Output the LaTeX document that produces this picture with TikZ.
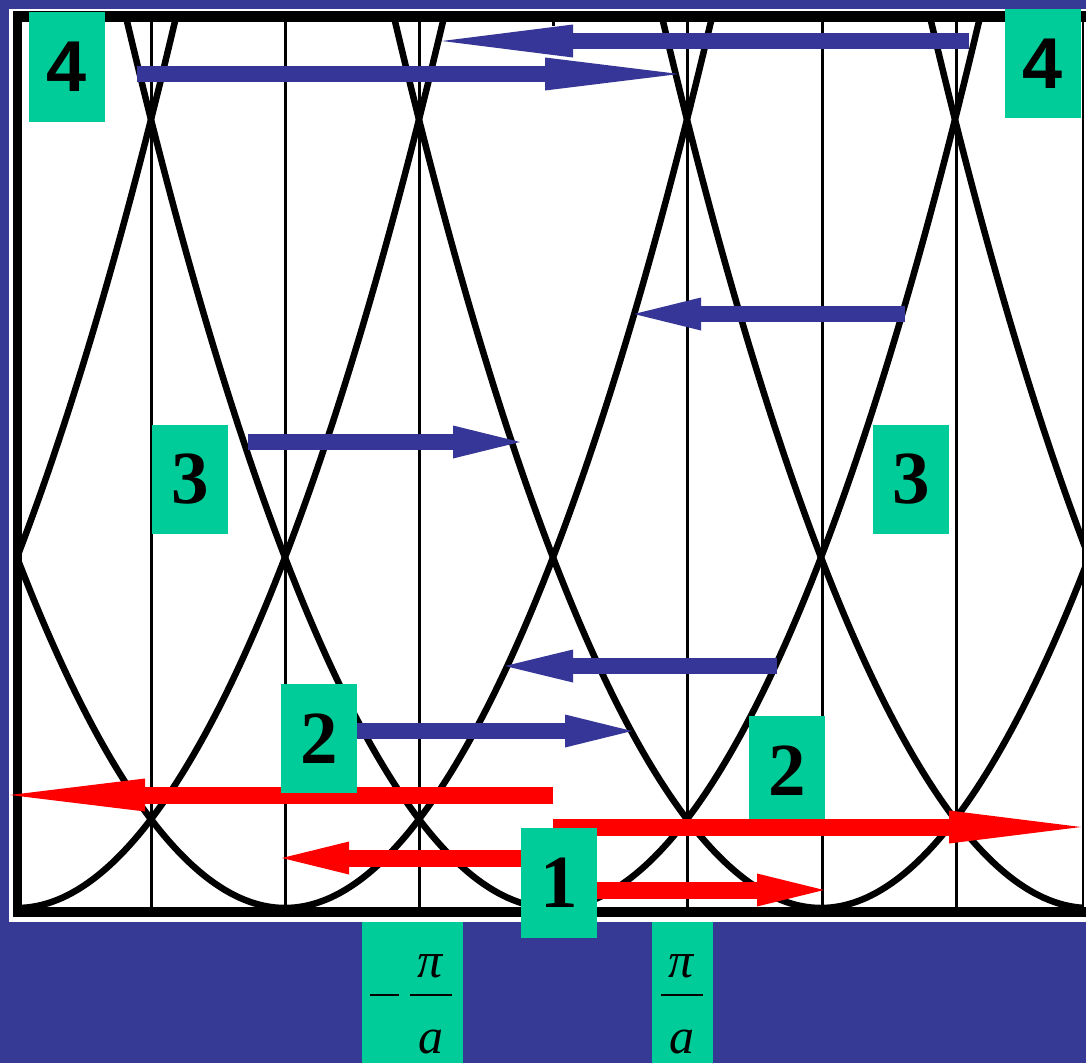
\documentclass[tikz,border=0pt]{standalone}
\usepackage{fontspec}
\setmainfont{Liberation Serif}
\newfontfamily\sansbold{Liberation Sans}
\usetikzlibrary{arrows.meta}
\definecolor{bgblue}{RGB}{54,58,148}
\definecolor{arrblue}{RGB}{54,54,152}
\definecolor{boxgreen}{RGB}{0,204,153}
\definecolor{arrred}{RGB}{255,0,0}
\tikzset{
  bandcurve/.style={line width=6.5, black},
  gridline/.style={line width=3, black},
  barr/.style={arrblue, line width=16.5, -{Triangle[length=#1, width=33pt, line width=0pt]}},
  rarr/.style={arrred, line width=17, -{Triangle[length=#1, width=33pt, line width=0pt]}},
  numbox/.style={fill=boxgreen, inner sep=0, minimum width=76, minimum height=110,
     font=\fontsize{75}{75}\selectfont\bfseries},
  fourbox/.style={numbox, font=\fontsize{72}{72}\selectfont\sansbold\bfseries},
  kbox/.style={fill=boxgreen, inner sep=0, minimum height=141},
  fractext/.style={inner sep=0, font=\fontsize{50}{50}\selectfont\itshape}
}
\begin{document}
\begin{tikzpicture}[x=1pt,y=-1pt]
\useasboundingbox (0,0) rectangle (1086,1063);
\fill[bgblue] (0,0) rectangle (1086,1063);
\fill[white] (9,9) rectangle (1086,922);
% bands
\begin{scope}
\clip (22,22) rectangle (1083,907);
\foreach \xc in {-251,17,285,553,821,1089,1357}{
  \draw[bandcurve] ({\xc-435.5},-19) parabola bend (\xc,908) ({\xc+435.5},-19);
}
\foreach \xv in {151,285,419,687,822,956}{
  \draw[gridline] (\xv,22) -- (\xv,907);
}
\draw[gridline] (553,22) -- (553,26);
\end{scope}
% frame
\draw[line width=11] (13,16.5) -- (1086,16.5);
\draw[line width=9] (17.5,11) -- (17.5,917);
\draw[line width=10] (13,912) -- (1086,912);
\draw[line width=2] (1083,22) -- (1083,907);
% coordinates
\coordinate (b1s) at (137,74);  \coordinate (b1e) at (679,74);
\coordinate (b2s) at (969,41);  \coordinate (b2e) at (442,41);
\coordinate (b3s) at (905,314); \coordinate (b3e) at (634,314);
\coordinate (b4s) at (248,442); \coordinate (b4e) at (520,442);
\coordinate (b5s) at (777,666); \coordinate (b5e) at (505,666);
\coordinate (b6s) at (357,731); \coordinate (b6e) at (632,731);
\coordinate (r1s) at (553,795); \coordinate (r1e) at (10,795);
\coordinate (r2s) at (553,827); \coordinate (r2e) at (1081,827);
\coordinate (r3s) at (521,858); \coordinate (r3e) at (282,858);
\coordinate (r4s) at (597,890); \coordinate (r4e) at (824,890);
% arrows
\draw[barr=134pt] (b1s) -- (b1e);
\draw[barr=131pt] (b2s) -- (b2e);
\draw[barr=67pt] (b3s) -- (b3e);
\draw[barr=67pt] (b4s) -- (b4e);
\draw[barr=68pt] (b5s) -- (b5e);
\draw[barr=67pt] (b6s) -- (b6e);
\draw[rarr=135pt] (r1s) -- (r1e);
\draw[rarr=67pt] (r3s) -- (r3e);
\draw[rarr=67pt] (r4s) -- (r4e);
% boxes
\node[fourbox] (n4l) at (67,67) {4};
\node[fourbox, minimum height=109] (n4r) at (1043,63.5) {4};
\node[numbox, minimum height=109] (n3l) at (190,479.5) {3};
\node[numbox, minimum height=109] (n3r) at (911,479.5) {3};
\node[numbox, minimum height=109] (n2l) at (319,738.5) {2};
\node[numbox] (n2r) at (787,771) {2};
\draw[rarr=132pt] (r2s) -- (r2e);
\node[numbox] (n1) at (559,883) {1};
% k labels
\node[kbox, minimum width=101] (kneg) at (412.5,992.5) {};
\node[kbox, minimum width=61] (kpos) at (682.5,992.5) {};
\node[fractext] (pineg) at (430,966) {π};
\node[fractext] (aneg) at (431,1042) {a};
\draw[line width=2.5] (410,995) -- (452,995);
\draw[line width=2.5] (370,995) -- (399,995);
\node[fractext] (pipos) at (681,966) {π};
\node[fractext] (apos) at (682,1042) {a};
\draw[line width=2.5] (661,995) -- (703,995);
\end{tikzpicture}
\end{document}
